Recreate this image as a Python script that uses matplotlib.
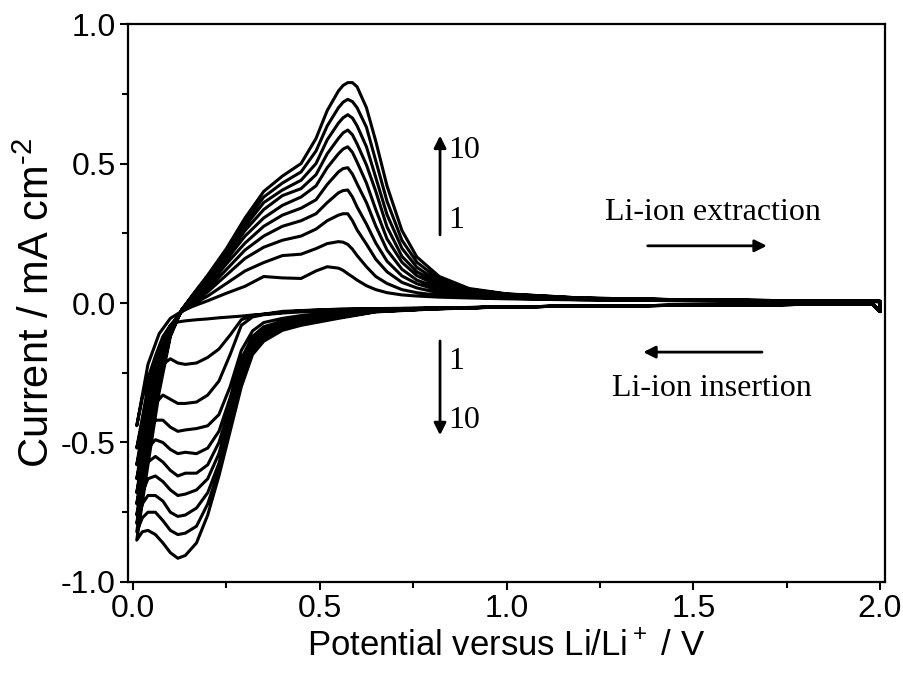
import matplotlib
matplotlib.use("Agg")
import matplotlib.pyplot as plt
from matplotlib.ticker import MultipleLocator

# potential grid (V) for the anodic sweep (0.01 -> 2.0 V) and cathodic sweep (2.0 -> 0.01 V)
potential_anodic = [0.01, 0.04, 0.07, 0.10, 0.13, 0.16, 0.20, 0.25, 0.30, 0.35, 0.40, 0.45, 0.49, 0.52,
                    0.55, 0.5625, 0.575, 0.5875, 0.60, 0.625, 0.65, 0.68, 0.72, 0.76, 0.82, 0.90, 1.00,
                    1.20, 1.50, 1.80, 2.00]
potential_cathodic = [2.00, 1.98, 1.80, 1.50, 1.20, 1.00, 0.80, 0.65, 0.55, 0.45, 0.40, 0.35, 0.32, 0.29,
                      0.26, 0.23, 0.20, 0.17, 0.14, 0.12, 0.10, 0.08, 0.06, 0.04, 0.025, 0.01]

# current (mA cm-2), anodic sweeps, cycles 1..10
anodic_c1 = [-0.44, -0.22, -0.11, -0.055, -0.03, -0.012, 0.008, 0.035, 0.06, 0.095, 0.09, 0.088, 0.115, 0.13,
             0.125, 0.117, 0.105, 0.094, 0.082, 0.062, 0.048, 0.037, 0.029, 0.025, 0.021, 0.018, 0.015,
             0.011, 0.008, 0.006, 0.005]
anodic_c2 = [-0.52, -0.30, -0.16, -0.08, -0.032, -0.005, 0.025, 0.07, 0.115, 0.145, 0.17, 0.175, 0.195, 0.213,
             0.22, 0.218, 0.21, 0.193, 0.17, 0.13, 0.095, 0.07, 0.048, 0.037, 0.027, 0.021, 0.017,
             0.012, 0.008, 0.006, 0.005]
anodic_c3 = [-0.58, -0.34, -0.18, -0.085, -0.03, 0.0, 0.04, 0.10, 0.16, 0.20, 0.225, 0.24, 0.265, 0.295,
             0.315, 0.32, 0.32, 0.295, 0.262, 0.211, 0.157, 0.112, 0.074, 0.054, 0.036, 0.025, 0.019,
             0.013, 0.009, 0.007, 0.005]
anodic_c4 = [-0.63, -0.38, -0.20, -0.09, -0.03, 0.007, 0.05, 0.12, 0.19, 0.24, 0.275, 0.295, 0.32, 0.36,
             0.395, 0.403, 0.405, 0.38, 0.344, 0.283, 0.215, 0.15, 0.097, 0.069, 0.045, 0.03, 0.022,
             0.014, 0.01, 0.007, 0.006]
anodic_c5 = [-0.68, -0.42, -0.22, -0.095, -0.028, 0.012, 0.06, 0.14, 0.215, 0.275, 0.315, 0.34, 0.37, 0.425,
             0.47, 0.482, 0.485, 0.462, 0.427, 0.36, 0.276, 0.19, 0.121, 0.082, 0.053, 0.034, 0.024,
             0.015, 0.01, 0.008, 0.006]
anodic_c6 = [-0.72, -0.45, -0.24, -0.10, -0.027, 0.016, 0.07, 0.155, 0.24, 0.305, 0.35, 0.38, 0.42, 0.485,
             0.535, 0.552, 0.56, 0.54, 0.505, 0.43, 0.335, 0.23, 0.146, 0.098, 0.06, 0.038, 0.026,
             0.016, 0.011, 0.008, 0.006]
anodic_c7 = [-0.76, -0.49, -0.26, -0.105, -0.026, 0.02, 0.08, 0.168, 0.26, 0.335, 0.385, 0.41, 0.46, 0.535,
             0.59, 0.61, 0.62, 0.603, 0.57, 0.495, 0.40, 0.273, 0.167, 0.112, 0.067, 0.042, 0.028,
             0.017, 0.011, 0.008, 0.006]
anodic_c8 = [-0.79, -0.52, -0.28, -0.11, -0.025, 0.024, 0.087, 0.178, 0.275, 0.36, 0.405, 0.44, 0.50, 0.585,
             0.645, 0.664, 0.675, 0.663, 0.635, 0.56, 0.45, 0.317, 0.196, 0.128, 0.074, 0.045, 0.03,
             0.017, 0.011, 0.008, 0.006]
anodic_c9 = [-0.82, -0.55, -0.30, -0.115, -0.025, 0.027, 0.094, 0.185, 0.29, 0.38, 0.43, 0.47, 0.545, 0.635,
             0.70, 0.72, 0.73, 0.722, 0.70, 0.63, 0.51, 0.365, 0.225, 0.146, 0.084, 0.049, 0.032,
             0.018, 0.011, 0.008, 0.006]
anodic_c10 = [-0.85, -0.58, -0.32, -0.12, -0.025, 0.03, 0.10, 0.195, 0.305, 0.40, 0.455, 0.50, 0.59, 0.69,
              0.76, 0.78, 0.79, 0.79, 0.775, 0.70, 0.58, 0.42, 0.26, 0.165, 0.095, 0.052, 0.033,
              0.018, 0.011, 0.008, 0.006]

# current (mA cm-2), cathodic sweeps, cycles 1..10
cathodic_c1 = [-0.03, -0.004, -0.005, -0.008, -0.011, -0.014, -0.018, -0.021, -0.023, -0.028, -0.034, -0.04, -0.043,
               -0.047, -0.05, -0.053, -0.057, -0.06, -0.064, -0.068, -0.08, -0.12, -0.19, -0.27, -0.34, -0.44]
cathodic_c2 = [-0.03, -0.004, -0.005, -0.008, -0.011, -0.014, -0.018, -0.02, -0.022, -0.027, -0.03, -0.04, -0.045,
               -0.06, -0.115, -0.165, -0.195, -0.215, -0.22, -0.215, -0.20, -0.22, -0.28, -0.36, -0.43, -0.52]
cathodic_c3 = [-0.03, -0.004, -0.005, -0.008, -0.011, -0.014, -0.019, -0.022, -0.026, -0.032, -0.036, -0.042, -0.05,
               -0.08, -0.185, -0.28, -0.33, -0.355, -0.36, -0.36, -0.345, -0.33, -0.36, -0.42, -0.49, -0.58]
cathodic_c4 = [-0.03, -0.004, -0.005, -0.008, -0.011, -0.014, -0.019, -0.024, -0.032, -0.045, -0.055, -0.07, -0.10,
               -0.17, -0.30, -0.40, -0.44, -0.45, -0.455, -0.46, -0.445, -0.42, -0.42, -0.47, -0.54, -0.63]
cathodic_c5 = [-0.03, -0.004, -0.005, -0.008, -0.011, -0.014, -0.02, -0.026, -0.037, -0.053, -0.065, -0.085, -0.12,
               -0.20, -0.34, -0.46, -0.52, -0.54, -0.535, -0.54, -0.525, -0.50, -0.49, -0.52, -0.58, -0.68]
cathodic_c6 = [-0.03, -0.004, -0.005, -0.008, -0.011, -0.014, -0.02, -0.027, -0.041, -0.059, -0.073, -0.095, -0.135,
               -0.225, -0.37, -0.50, -0.58, -0.61, -0.61, -0.62, -0.60, -0.57, -0.55, -0.57, -0.63, -0.72]
cathodic_c7 = [-0.03, -0.004, -0.005, -0.008, -0.011, -0.014, -0.02, -0.029, -0.045, -0.066, -0.082, -0.105, -0.15,
               -0.245, -0.395, -0.54, -0.63, -0.67, -0.685, -0.69, -0.67, -0.64, -0.62, -0.63, -0.68, -0.76]
cathodic_c8 = [-0.03, -0.004, -0.005, -0.008, -0.011, -0.014, -0.021, -0.03, -0.049, -0.072, -0.088, -0.115, -0.16,
               -0.265, -0.42, -0.575, -0.68, -0.735, -0.76, -0.765, -0.75, -0.71, -0.69, -0.69, -0.72, -0.79]
cathodic_c9 = [-0.03, -0.004, -0.005, -0.008, -0.011, -0.014, -0.021, -0.031, -0.052, -0.076, -0.093, -0.125, -0.172,
               -0.285, -0.44, -0.60, -0.72, -0.80, -0.825, -0.83, -0.815, -0.78, -0.75, -0.75, -0.77, -0.82]
cathodic_c10 = [-0.03, -0.004, -0.005, -0.008, -0.011, -0.014, -0.022, -0.032, -0.055, -0.08, -0.098, -0.137, -0.185,
                -0.30, -0.46, -0.62, -0.76, -0.86, -0.905, -0.915, -0.895, -0.86, -0.83, -0.815, -0.82, -0.85]

anodic = [anodic_c1, anodic_c2, anodic_c3, anodic_c4, anodic_c5,
          anodic_c6, anodic_c7, anodic_c8, anodic_c9, anodic_c10]
cathodic = [cathodic_c1, cathodic_c2, cathodic_c3, cathodic_c4, cathodic_c5,
            cathodic_c6, cathodic_c7, cathodic_c8, cathodic_c9, cathodic_c10]

plt.rcParams['font.family'] = ['Liberation Sans', 'DejaVu Sans']
plt.rcParams['axes.unicode_minus'] = False
plt.rcParams['mathtext.fontset'] = 'custom'
plt.rcParams['mathtext.rm'] = 'Liberation Sans'
plt.rcParams['mathtext.it'] = 'Liberation Sans:italic'
plt.rcParams['mathtext.bf'] = 'Liberation Sans:bold'

SERIF = 'Liberation Serif'

fig = plt.figure(figsize=(9.04, 6.75), dpi=100)
ax = fig.add_axes([0.1416, 0.1378, 0.8374, 0.8266])

# one continuous trace: cathodic sweep then anodic sweep, cycle after cycle
xs, ys = [], []
for cath, anod in zip(cathodic, anodic):
    xs += potential_cathodic + potential_anodic
    ys += cath + anod
ax.plot(xs, ys, color='black', lw=2.2, solid_joinstyle='round')

ax.set_xlim(-0.0134, 2.0134)
ax.set_ylim(-1.0, 1.0)
ax.xaxis.set_major_locator(MultipleLocator(0.5))
ax.xaxis.set_minor_locator(MultipleLocator(0.25))
ax.yaxis.set_major_locator(MultipleLocator(0.5))
ax.yaxis.set_minor_locator(MultipleLocator(0.25))
ax.xaxis.set_major_formatter(plt.FormatStrFormatter('%.1f'))
ax.yaxis.set_major_formatter(plt.FormatStrFormatter('%.1f'))
ax.tick_params(which='both', direction='out', top=False, right=False, width=1.5, labelsize=23)
ax.tick_params(which='major', length=6, pad=3)
ax.tick_params(which='minor', length=4)
for sp in ax.spines.values():
    sp.set_linewidth(1.6)

ax.set_xlabel('Potential versus Li/Li$^+$ / V', fontsize=25, labelpad=4)
ax.set_ylabel(r'Current / mA cm$^{\text{-2}}$', fontsize=30, labelpad=2)

arrow = dict(arrowstyle='-|>', lw=2, color='black', mutation_scale=18, shrinkA=0, shrinkB=0)
# cycle number arrows
ax.annotate('', xy=(0.822, 0.60), xytext=(0.822, 0.244), arrowprops=arrow)
ax.text(0.845, 0.546, '10', family=SERIF, fontsize=23, va='center', ha='left')
ax.text(0.845, 0.294, '1', family=SERIF, fontsize=23, va='center', ha='left')
ax.annotate('', xy=(0.822, -0.474), xytext=(0.822, -0.136), arrowprops=arrow)
ax.text(0.845, -0.21, '1', family=SERIF, fontsize=23, va='center', ha='left')
ax.text(0.845, -0.42, '10', family=SERIF, fontsize=23, va='center', ha='left')

# sweep direction
ax.text(1.553, 0.323, 'Li-ion extraction', family=SERIF, fontsize=23, va='center', ha='center')
ax.annotate('', xy=(1.697, 0.205), xytext=(1.378, 0.205), arrowprops=arrow)
ax.annotate('', xy=(1.366, -0.176), xytext=(1.684, -0.176), arrowprops=arrow)
ax.text(1.55, -0.305, 'Li-ion insertion', family=SERIF, fontsize=23, va='center', ha='center')

fig.savefig('out.png', dpi=100)
